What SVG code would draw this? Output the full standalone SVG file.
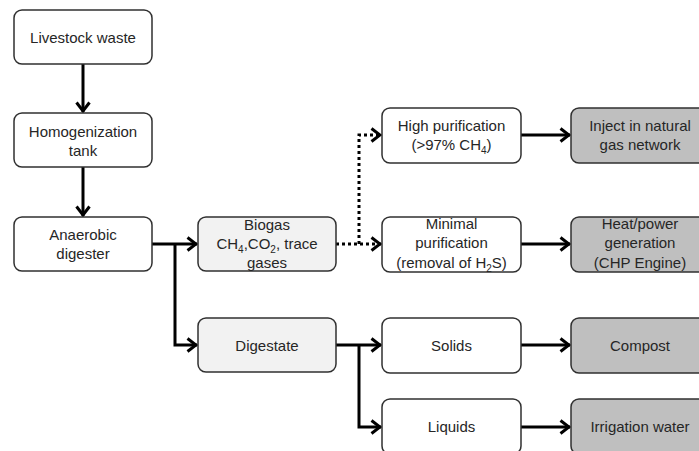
<svg xmlns="http://www.w3.org/2000/svg" width="699" height="451" viewBox="0 0 699 451">
<style>
.box{stroke:#303030;stroke-width:1.5;}
.w{fill:#ffffff;}
.lg{fill:#f2f2f2;}
.dg{fill:#bfbfbf;}
text{font-family:"Liberation Sans",Arial,sans-serif;font-size:15px;fill:#262626;text-anchor:middle;}
.sub{font-size:10px;}
.c{stroke:#000;stroke-width:3;fill:none;}
.d{stroke:#000;stroke-width:3;fill:none;stroke-dasharray:3 3;}
</style>
<defs>
<marker id="arr" viewBox="0 0 12 16" refX="11" refY="8" markerWidth="12" markerHeight="16" markerUnits="userSpaceOnUse" orient="auto">
<path d="M1.5,1.5 L10,8 L1.5,14.5" fill="none" stroke="#000" stroke-width="3"/>
</marker>
</defs>
<rect width="699" height="451" fill="#ffffff"/>
<g id="connectors">
<path class="c" d="M83,64 V112" marker-end="url(#arr)"/>
<path class="c" d="M83,167 V216" marker-end="url(#arr)"/>
<path class="c" d="M152,244 H197" marker-end="url(#arr)"/>
<path class="c" d="M175,244 V345 H197" marker-end="url(#arr)"/>
<path class="d" d="M336,244 H381" marker-end="url(#arr)"/>
<path class="d" d="M359,244 V135 H381" marker-end="url(#arr)"/>
<path class="c" d="M521,135 H570" marker-end="url(#arr)"/>
<path class="c" d="M521,244 H570" marker-end="url(#arr)"/>
<path class="c" d="M336,345 H381" marker-end="url(#arr)"/>
<path class="c" d="M359,345 V427 H381" marker-end="url(#arr)"/>
<path class="c" d="M521,345 H570" marker-end="url(#arr)"/>
<path class="c" d="M521,427 H570" marker-end="url(#arr)"/>
</g>
<g id="livestock">
<rect class="box w" x="14" y="10" width="138" height="54" rx="8"/>
<text x="83" y="43">Livestock waste</text>
</g>
<g id="homogenization">
<rect class="box w" x="14" y="113" width="138" height="54" rx="8"/>
<text x="83" y="137">Homogenization</text>
<text x="83" y="156">tank</text>
</g>
<g id="anaerobic">
<rect class="box w" x="14" y="217" width="138" height="54" rx="8"/>
<text x="83" y="240">Anaerobic</text>
<text x="83" y="259">digester</text>
</g>
<g id="biogas">
<rect class="box lg" x="198" y="217" width="138" height="54" rx="8"/>
<text x="267" y="230">Biogas</text>
<text x="267" y="249">CH<tspan class="sub" dy="4">4</tspan><tspan dy="-4">,CO</tspan><tspan class="sub" dy="4">2</tspan><tspan dy="-4">, trace</tspan></text>
<text x="267" y="268">gases</text>
</g>
<g id="digestate">
<rect class="box lg" x="198" y="318" width="138" height="54" rx="8"/>
<text x="267" y="351">Digestate</text>
</g>
<g id="high">
<rect class="box w" x="382" y="108" width="139" height="55" rx="8"/>
<text x="451.5" y="131">High purification</text>
<text x="451.5" y="150">(&gt;97% CH<tspan class="sub" dy="4">4</tspan><tspan dy="-4">)</tspan></text>
</g>
<g id="minimal">
<rect class="box w" x="382" y="217" width="139" height="55" rx="8"/>
<text x="451.5" y="229">Minimal</text>
<text x="451.5" y="248">purification</text>
<text x="451.5" y="268">(removal of H<tspan class="sub" dy="4">2</tspan><tspan dy="-4">S)</tspan></text>
</g>
<g id="solids">
<rect class="box w" x="382" y="318" width="139" height="55" rx="8"/>
<text x="451.5" y="351">Solids</text>
</g>
<g id="liquids">
<rect class="box w" x="382" y="399" width="139" height="55" rx="8"/>
<text x="451.5" y="432">Liquids</text>
</g>
<g id="inject">
<rect class="box dg" x="571" y="108" width="140" height="55" rx="8"/>
<text x="640" y="131">Inject in natural</text>
<text x="640" y="150">gas network</text>
</g>
<g id="heat">
<rect class="box dg" x="571" y="217" width="140" height="55" rx="8"/>
<text x="640" y="229">Heat/power</text>
<text x="640" y="248">generation</text>
<text x="640" y="268">(CHP Engine)</text>
</g>
<g id="compost">
<rect class="box dg" x="571" y="318" width="140" height="55" rx="8"/>
<text x="640" y="351">Compost</text>
</g>
<g id="irrigation">
<rect class="box dg" x="571" y="399" width="140" height="55" rx="8"/>
<text x="640" y="432">Irrigation water</text>
</g>
</svg>
